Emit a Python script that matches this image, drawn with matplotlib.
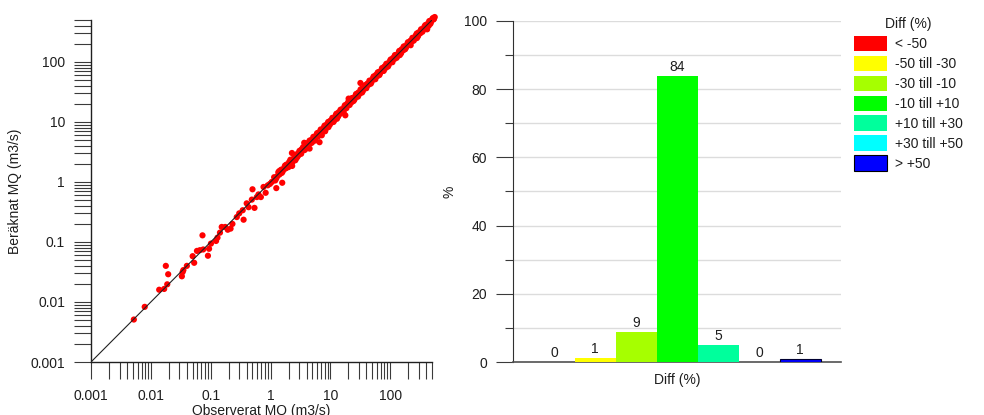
import matplotlib
matplotlib.use("Agg")
import matplotlib.pyplot as plt
from matplotlib.patches import Patch
from matplotlib.ticker import LogLocator, NullFormatter, FixedLocator, FixedFormatter

plt.rcParams['font.family'] = ['Liberation Sans', 'DejaVu Sans']
plt.rcParams['font.size'] = 10

# ---------------- data ----------------
# scatter: observed vs computed MQ (m3/s)
obs_low = [0.0052, 0.0079, 0.0138, 0.0167, 0.0178, 0.0195, 0.0188, 0.033, 0.034, 0.035,
           0.040, 0.050, 0.053, 0.059, 0.066, 0.073, 0.075, 0.090, 0.094, 0.101,
           0.123, 0.130, 0.143, 0.153, 0.175, 0.193, 0.215, 0.231, 0.273, 0.300,
           0.343, 0.355, 0.400, 0.430, 0.487, 0.500, 0.540, 0.590, 0.630, 0.690,
           0.764, 0.830, 0.900, 0.980, 1.20, 1.25, 1.41, 1.57, 1.76, 2.0,
           2.28, 2.3, 2.6, 2.8, 3.1, 3.66, 4.5, 5.6, 6.6, 7.2,
           8.2, 9.3, 11.3, 12.9, 16.7, 17.8, 20.2, 24.4, 31.8, 34.0,
           41.0, 53.0, 77.0, 106.0, 145.0, 220.0, 280.0, 415.0, 440.0, 540.0]
calc_low = [0.0051, 0.0083, 0.016, 0.0165, 0.040, 0.029, 0.0197, 0.0268, 0.0316, 0.034,
            0.040, 0.058, 0.045, 0.071, 0.073, 0.129, 0.075, 0.059, 0.077, 0.094,
            0.104, 0.118, 0.143, 0.178, 0.178, 0.160, 0.167, 0.200, 0.260, 0.300,
            0.338, 0.235, 0.440, 0.380, 0.508, 0.755, 0.370, 0.560, 0.620, 0.560,
            0.826, 0.660, 0.880, 0.930, 1.06, 0.79, 1.33, 0.97, 1.67, 1.77,
            3.04, 1.85, 2.3, 2.6, 3.2, 4.5, 3.6, 4.9, 4.6, 6.0,
            7.0, 8.2, 10.0, 11.3, 14.7, 12.9, 24.5, 22.9, 44.6, 36.0,
            40.0, 56.0, 72.0, 105.0, 130.0, 190.0, 250.0, 350.0, 400.0, 525.0]
obs_band = [1.05, 1.15, 1.3, 1.35, 1.45, 1.5, 1.6, 1.7, 1.8, 1.85, 1.95, 2.05, 2.1, 2.2,
            2.4, 2.5, 2.65, 2.75, 2.9, 3.0, 3.2, 3.3, 3.4, 3.6, 3.8, 3.9, 4.1, 4.3, 4.6,
            4.8, 5.0, 5.3, 5.5, 5.8, 6.1, 6.4, 6.8, 7.0, 7.5, 7.8, 8.4, 8.8, 9.5, 10.0,
            10.5, 11.0, 11.8, 12.3, 13.2, 13.8, 14.5, 15.5, 16.3, 17.2, 18.2, 19.0, 20.5,
            21.5, 22.5, 24.0, 25.5, 26.5, 28.0, 29.5, 31.0, 33.0, 35.0, 37.0, 39.0, 41.5,
            44.0, 46.0, 49.0, 52.0, 55.0, 58.0, 61.0, 65.0, 68.0, 72.0, 76.0, 80.0, 85.0,
            90.0, 95.0, 100.0, 106.0, 112.0, 118.0, 125.0, 132.0, 140.0, 148.0, 156.0,
            165.0, 175.0, 185.0, 195.0, 205.0, 218.0, 230.0, 242.0, 255.0, 270.0, 285.0,
            300.0, 318.0, 335.0, 352.0, 372.0, 392.0, 412.0, 435.0, 455.0, 480.0, 505.0,
            530.0, 555.0]
calc_band = [1.0, 1.2, 1.25, 1.45, 1.4, 1.6, 1.5, 1.75, 1.7, 1.95, 1.9, 2.15, 2.0, 2.3,
             2.25, 2.6, 2.55, 2.9, 2.75, 3.1, 3.0, 3.5, 3.3, 3.7, 3.5, 4.1, 3.9, 4.5, 4.4,
             5.0, 4.7, 5.5, 5.2, 6.0, 5.8, 6.7, 6.4, 7.3, 7.1, 8.1, 8.0, 9.2, 9.0, 10.5,
             9.8, 11.6, 11.2, 12.9, 12.5, 14.5, 13.6, 16.2, 15.5, 18.0, 17.3, 20.0, 19.5,
             22.5, 21.2, 25.2, 24.0, 28.0, 26.5, 31.0, 29.5, 34.5, 33.0, 38.5, 37.0, 43.5,
             42.0, 48.5, 46.5, 54.0, 52.0, 61.0, 58.0, 68.0, 65.0, 75.0, 72.0, 84.0, 80.0,
             94.0, 90.0, 105.0, 100.0, 117.0, 112.0, 131.0, 125.0, 146.0, 140.0, 163.0,
             156.0, 182.0, 175.0, 203.0, 195.0, 226.0, 218.0, 252.0, 243.0, 280.0, 270.0,
             312.0, 300.0, 345.0, 335.0, 385.0, 372.0, 425.0, 415.0, 470.0, 460.0, 520.0,
             510.0, 560.0]
obs_wide = [1.25, 1.4, 1.55, 1.75, 1.9, 2.15, 2.3, 2.55, 2.7, 3.05, 3.25, 3.5, 3.7, 4.0,
            4.2, 4.5, 4.9, 5.2, 5.6, 6.0, 6.3, 6.9, 7.3, 8.0, 8.6, 9.2, 9.8, 10.8, 11.5,
            12.6, 13.5, 14.8, 15.8, 17.5, 18.6, 20.0, 21.0, 23.0, 24.5, 27.0, 29.0, 32.0,
            34.0, 38.0, 40.0, 45.0, 47.5, 53.0, 56.5, 62.0, 66.0, 73.0, 78.0, 86.0, 92.0,
            102.0, 109.0, 120.0, 128.0, 142.0, 152.0, 168.0, 178.0, 198.0, 210.0, 235.0,
            248.0, 278.0, 292.0, 328.0, 345.0, 385.0, 405.0, 450.0, 470.0, 520.0]
calc_wide = [1.15, 1.52, 1.42, 1.88, 1.75, 2.35, 2.1, 2.78, 2.48, 3.3, 2.95, 3.8, 3.4, 4.35,
             3.85, 4.9, 4.5, 5.65, 5.1, 6.5, 5.8, 7.5, 6.7, 8.7, 7.9, 10.0, 9.0, 11.7, 10.5,
             13.7, 12.3, 16.0, 14.5, 19.0, 17.0, 21.7, 19.2, 25.0, 22.4, 29.3, 26.5, 34.8,
             31.0, 41.0, 36.5, 48.8, 43.5, 57.5, 51.5, 67.0, 60.5, 79.0, 71.0, 93.0, 84.0,
             110.0, 99.0, 130.0, 117.0, 153.0, 139.0, 181.0, 163.0, 213.0, 192.0, 252.0,
             227.0, 298.0, 268.0, 350.0, 318.0, 410.0, 372.0, 480.0, 432.0, 540.0]

line_ends = [0.001, 500.0]
log_major = [0.001, 0.01, 0.1, 1, 10, 100]
log_labels = ['0.001', '0.01', '0.1', '1', '10', '100']

# bar chart
classes = ['< -50', '-50 till -30', '-30 till -10', '-10 till +10',
           '+10 till +30', '+30 till +50', '> +50']
percent = [0.0, 1.1, 8.8, 83.9, 4.9, 0.0, 1.0]
bar_colors = ['#ff0000', '#ffff00', '#a6ff00', '#00ff00', '#00ff9c', '#00ffff', '#0000ff']
bar_edges = ['none', 'none', 'none', 'none', 'none', 'none', '#000030']

# ---------------- figure ----------------
W, H = 984, 415
fig = plt.figure(figsize=(W / 100, H / 100), dpi=100)

def fax(x0, y0, x1, y1):
    return fig.add_axes([x0 / W, 1 - y1 / H, (x1 - x0) / W, (y1 - y0) / H])

tick_col = '#3a3a3a'
txt_col = '#1e1e1e'

# ---- scatter ----
ax1 = fax(91, 20, 432, 362)
ax1.set_xscale('log')
ax1.set_yscale('log')
ax1.set_xlim(0.001, 500)
ax1.set_ylim(0.001, 500)
ax1.plot(line_ends, line_ends, color='#202020', lw=0.8, zorder=4)
ax1.scatter(obs_low + obs_band + obs_wide, calc_low + calc_band + calc_wide, s=20,
            color='#ff0000', edgecolors='none', zorder=3, clip_on=False)
for a in (ax1.xaxis, ax1.yaxis):
    a.set_major_locator(FixedLocator(log_major))
    a.set_major_formatter(FixedFormatter(log_labels))
    a.set_minor_locator(LogLocator(base=10, subs=range(2, 10), numticks=20))
    a.set_minor_formatter(NullFormatter())
ax1.tick_params(which='both', direction='out', length=12.2, width=0.8, color=tick_col,
                labelsize=10, labelcolor=txt_col)
ax1.tick_params(axis='y', which='both', pad=6.5)
ax1.tick_params(axis='x', which='both', pad=7)
for s in ('top', 'right'):
    ax1.spines[s].set_visible(False)
for s in ('left', 'bottom'):
    ax1.spines[s].set_color('#202020')
    ax1.spines[s].set_linewidth(1.0)
ax1.set_xlabel('Observerat MQ (m3/s)', fontsize=10, color=txt_col)
ax1.set_ylabel('Beräknat MQ (m3/s)', fontsize=10, color=txt_col)
ax1.xaxis.set_label_coords(0.5, -0.124)
ax1.yaxis.set_label_coords(-0.202, 0.5)

# ---- bars ----
ax2 = fax(513, 21, 841, 362)
xs = list(range(len(classes)))
bars = ax2.bar(xs, percent, width=1.0, color=bar_colors, edgecolor=bar_edges,
               linewidth=0.8, zorder=3)
for xi, v in zip(xs, percent):
    ax2.text(xi, v + 0.6, '%.0f' % v, ha='center', va='bottom', fontsize=10,
             color=txt_col, zorder=4)
ax2.set_xlim(-1, 7)
ax2.set_ylim(0, 100)
ax2.set_xticks([])
ax2.set_yticks([0, 20, 40, 60, 80, 100])
ax2.set_yticks([10, 30, 50, 70, 90], minor=True)
ax2.tick_params(axis='y', which='major', direction='out', length=12.2, width=0.8,
                color=tick_col, labelsize=10, labelcolor=txt_col, pad=6.5)
ax2.tick_params(axis='y', which='minor', direction='out', length=6, width=0.8,
                color=tick_col)
for yv in range(10, 101, 10):
    ax2.axhline(yv, color='#dcdcdc', lw=1.0, zorder=1)
for s in ('top', 'right'):
    ax2.spines[s].set_visible(False)
ax2.spines['left'].set_color('#303030')
ax2.spines['bottom'].set_color('#505050')
ax2.spines['bottom'].set_linewidth(1.2)
ax2.set_xlabel('Diff (%)', fontsize=10, color=txt_col)
ax2.xaxis.set_label_coords(0.5, -0.031)
ax2.set_ylabel('%', fontsize=10, color=txt_col)
ax2.yaxis.set_label_coords(-0.171, 0.5)

handles = [Patch(facecolor=c, edgecolor=('black' if e != 'none' else 'none'), lw=0.8)
           for c, e in zip(bar_colors, bar_edges)]
leg = fig.legend(handles, classes, title='Diff (%)', loc='upper left',
                 bbox_to_anchor=(854 / W, 1 - 17 / H), frameon=False,
                 borderpad=0, borderaxespad=0, handlelength=2.37, handleheight=1.3,
                 labelspacing=0.34, handletextpad=0.58, fontsize=10,
                 title_fontsize=10)
for t in leg.get_texts():
    t.set_color(txt_col)
leg.get_title().set_color(txt_col)

fig.savefig('out.png', dpi=100)
